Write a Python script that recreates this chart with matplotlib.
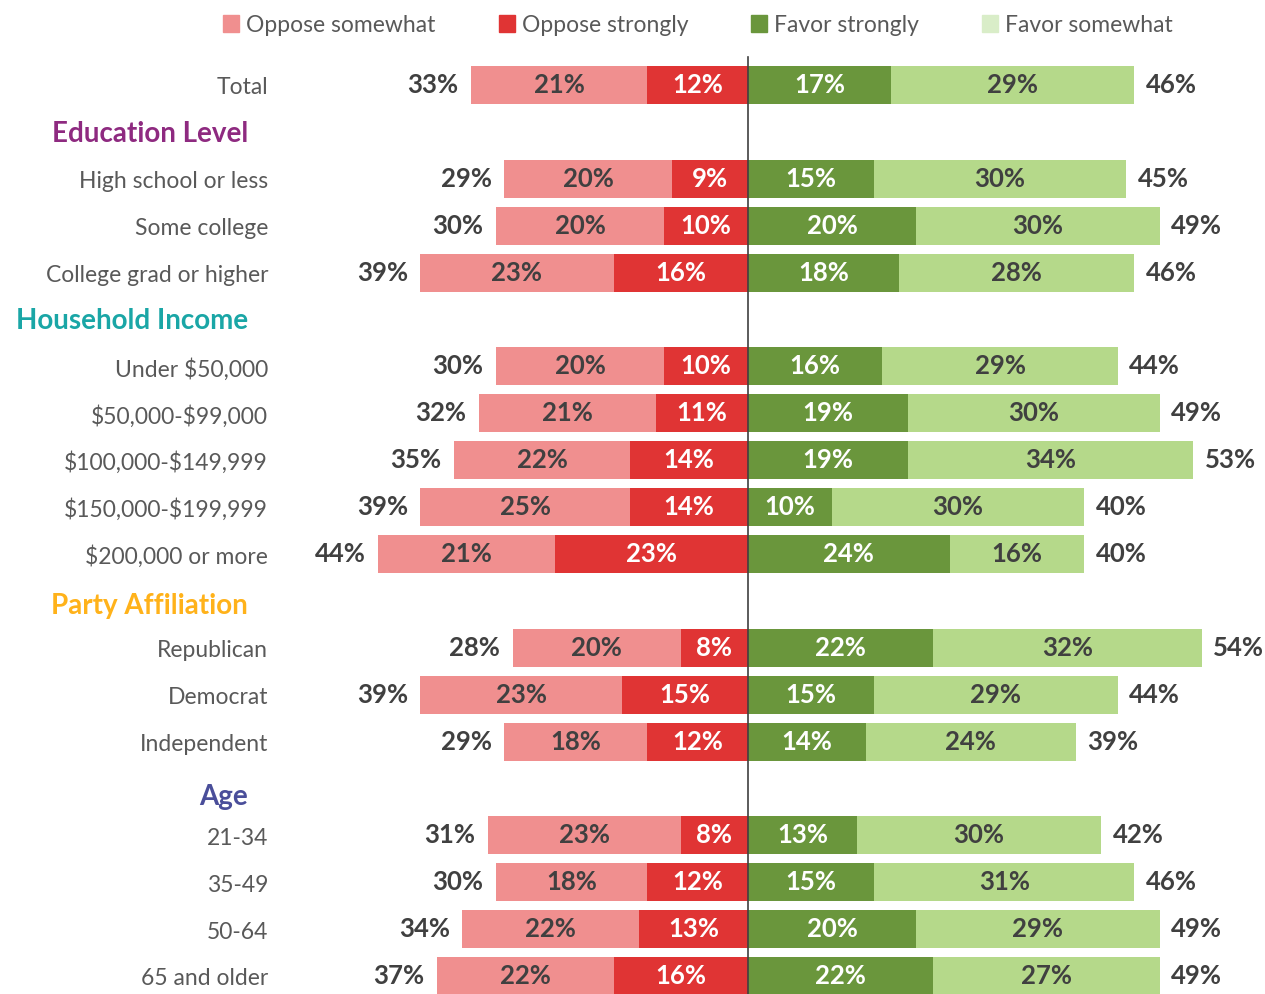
import matplotlib
matplotlib.use("Agg")
import matplotlib.pyplot as plt
from matplotlib.patches import Patch

plt.rcParams['font.family'] = ['Lato', 'DejaVu Sans']
plt.rcParams['text.parse_math'] = False

# rows top to bottom; None marks a group header row
rows = ["Total", None, "High school or less", "Some college", "College grad or higher",
        None, "Under $50,000", "$50,000-$99,000", "$100,000-$149,999", "$150,000-$199,999",
        "$200,000 or more", None, "Republican", "Democrat", "Independent",
        None, "21-34", "35-49", "50-64", "65 and older"]
headers = {1: "Education Level", 5: "Household Income", 11: "Party Affiliation", 15: "Age"}
header_colors = {1: "#8E2A80", 5: "#1AA6A6", 11: "#FFB21A", 15: "#4A4E9A"}
header_shift = {1: 0.05, 5: 0.03, 11: 0.11, 15: 0.19}

oppose_somewhat = [21, None, 20, 20, 23, None, 20, 21, 22, 25, 21, None, 20, 23, 18, None, 23, 18, 22, 22]
oppose_strongly = [12, None, 9, 10, 16, None, 10, 11, 14, 14, 23, None, 8, 15, 12, None, 8, 12, 13, 16]
oppose_total = [33, None, 29, 30, 39, None, 30, 32, 35, 39, 44, None, 28, 39, 29, None, 31, 30, 34, 37]
favor_strongly = [17, None, 15, 20, 18, None, 16, 19, 19, 10, 24, None, 22, 15, 14, None, 13, 15, 20, 22]
favor_somewhat = [29, None, 30, 30, 28, None, 29, 30, 34, 30, 16, None, 32, 29, 24, None, 30, 31, 29, 27]
favor_total = [46, None, 45, 49, 46, None, 44, 49, 53, 40, 40, None, 54, 44, 39, None, 42, 46, 49, 49]

c_os = "#F08F8F"
c_ostr = "#E03434"
c_fstr = "#6A963C"
c_fsom = "#B5D98A"
c_val = "#404040"
c_lab = "#595959"

W, H = 1265, 994
fig = plt.figure(figsize=(W / 100, H / 100), dpi=100)
ax = fig.add_axes([0, 0, 1, 1])
pxu = 8.4          # pixels per percent
cx = 748           # pixel of the zero line
row0, drow = 85, 46.9
ax.set_xlim(-cx / pxu, (W - cx) / pxu)
ax.set_ylim((H - row0) / drow, -row0 / drow)
ax.axis("off")

bh = 0.81
vfs = 18.5
for i, name in enumerate(rows):
    if name is None:
        ax.text((248 - cx) / pxu, i + header_shift[i], headers[i], ha="right", va="center",
                fontsize=20, fontweight="bold", color=header_colors[i])
        continue
    ax.text((268 - cx) / pxu, i + 0.06, name, ha="right", va="center",
            fontsize=16.5, color=c_lab)
    ostr = oppose_strongly[i]
    otot = oppose_total[i]
    fstr = favor_strongly[i]
    ftot = favor_total[i]
    ax.barh(i, -ostr, height=bh, color=c_ostr)
    ax.barh(i, -(otot - ostr), left=-ostr, height=bh, color=c_os)
    ax.barh(i, fstr, height=bh, color=c_fstr)
    ax.barh(i, ftot - fstr, left=fstr, height=bh, color=c_fsom)
    ax.text(-ostr / 2, i, f"{ostr}%", ha="center", va="center", fontsize=vfs,
            fontweight="bold", color="white")
    ax.text(-ostr - (otot - ostr) / 2, i, f"{oppose_somewhat[i]}%", ha="center", va="center",
            fontsize=vfs, fontweight="bold", color=c_val)
    ax.text(fstr / 2, i, f"{fstr}%", ha="center", va="center", fontsize=vfs,
            fontweight="bold", color="white")
    ax.text(fstr + (ftot - fstr) / 2, i, f"{favor_somewhat[i]}%", ha="center", va="center",
            fontsize=vfs, fontweight="bold", color=c_val)
    ax.text(-otot - 1.5, i, f"{otot}%", ha="right", va="center", fontsize=vfs,
            fontweight="bold", color=c_val)
    ax.text(ftot + 1.4, i, f"{ftot}%", ha="left", va="center", fontsize=vfs,
            fontweight="bold", color=c_val)

ax.plot([0, 0], [-0.6, (H - row0) / drow], color="#404040", lw=1.2)

handles = [Patch(color=c_os), Patch(color=c_ostr), Patch(color=c_fstr), Patch(color="#D9EDC8")]
labels = ["Oppose somewhat", "Oppose strongly", "Favor strongly", "Favor somewhat"]
fig.legend(handles, labels, loc="center", bbox_to_anchor=(698 / W, 1 - 25 / H), ncol=4,
           frameon=False, fontsize=16.5, handlelength=0.7, handleheight=0.7,
           handletextpad=0.3, columnspacing=2.75, labelcolor=c_lab)

fig.savefig("out.png", dpi=100)
